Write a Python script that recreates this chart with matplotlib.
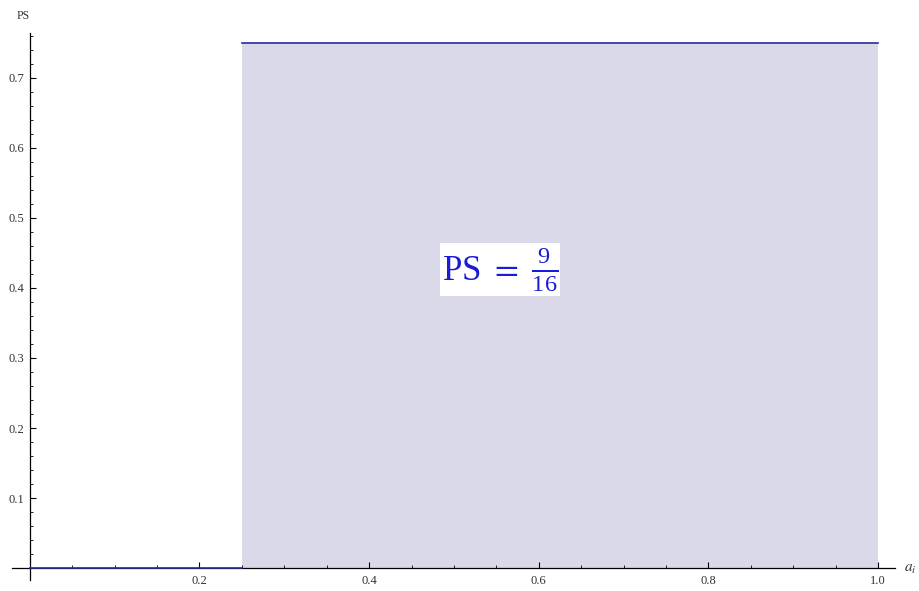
import matplotlib
matplotlib.use("Agg")
import matplotlib.pyplot as plt
import numpy as np
from matplotlib.ticker import MultipleLocator, FixedLocator

# data
x_step = [0.0, 0.25, 0.25, 1.0]
y_step = [0.0, 0.0, 0.75, 0.75]
fill_x = [0.25, 1.0]
fill_y = [0.75, 0.75]
x_ticks = [0.2, 0.4, 0.6, 0.8, 1.0]
y_ticks = [0.1, 0.2, 0.3, 0.4, 0.5, 0.6, 0.7]
annotation = r"PS $=$ $\mathregular{\frac{9}{16}}$"

plt.rcParams['mathtext.fontset'] = 'stix'
fig = plt.figure(figsize=(9.19, 5.91), dpi=100)
ax = fig.add_axes([12/919, 1-580/591, (895-12)/919, (580-33)/591])

ax.fill_between(fill_x, 0, fill_y, color='#d9d9ea', linewidth=0, zorder=1)
ax.plot(x_step[:2], y_step[:2], color='#2b2b9a', lw=1.2, zorder=3)
ax.plot(x_step[2:], y_step[2:], color='#2b2b9a', lw=1.2, zorder=3)

ax.set_xlim(-0.021, 1.02)
ax.set_ylim(-0.017, 0.764)

for s in ['top', 'right']:
    ax.spines[s].set_visible(False)
ax.spines['left'].set_position(('data', 0))
ax.spines['bottom'].set_position(('data', 0))
ax.spines['left'].set_linewidth(0.9)
ax.spines['bottom'].set_linewidth(0.9)

ax.xaxis.set_major_locator(FixedLocator(x_ticks))
ax.xaxis.set_minor_locator(MultipleLocator(0.05))
ax.yaxis.set_major_locator(FixedLocator(y_ticks))
ax.yaxis.set_minor_locator(MultipleLocator(0.02))
ax.set_xticklabels([f"{v:.1f}" for v in x_ticks])
ax.set_yticklabels([f"{v:.1f}" for v in y_ticks])
ax.tick_params(axis='x', which='major', direction='in', length=4, width=0.8, labelsize=9, pad=5)
ax.tick_params(axis='x', which='minor', direction='in', length=2, width=0.6)
ax.tick_params(axis='y', which='major', direction='in', length=4, width=0.8, labelsize=9, pad=4)
ax.tick_params(axis='y', which='minor', direction='in', length=2, width=0.6)
for lab in ax.get_xticklabels() + ax.get_yticklabels():
    lab.set_fontfamily('Liberation Serif')
    lab.set_color('#333333')

fig.text(23/919, 1-16/591, "PS", fontsize=8.5, family='Liberation Serif', color='#333333', ha='center', va='center')
fig.text(910/919, 1-568/591, r"$a_i$", fontsize=11, color='#333333', ha='center', va='center')

ax.text(0.554, 0.426, annotation, fontsize=25, color='#1a1adb', family='Liberation Serif',
        ha='center', va='center', zorder=5,
        bbox=dict(facecolor='white', edgecolor='none', pad=1.5))

fig.savefig("out.png", dpi=100)
